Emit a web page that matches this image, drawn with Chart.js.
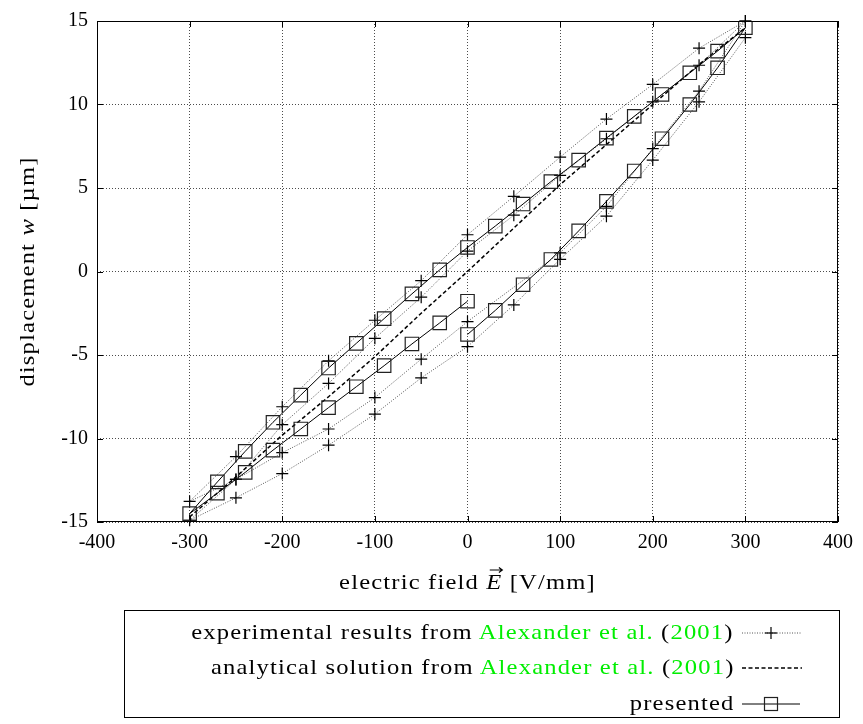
<!DOCTYPE html>
<html>
<head>
<meta charset="utf-8">
<script src="https://cdn.jsdelivr.net/npm/chart.js@4.4.1/dist/chart.umd.min.js"></script>
<style>
html,body{margin:0;padding:0;background:#fff;}
#wrap{position:relative;width:863px;height:724px;overflow:hidden;}
#c{position:absolute;left:0;top:0;}
#legend{position:absolute;left:124px;top:610px;width:716px;height:108px;border:1px solid #000;box-sizing:border-box;
  font-family:"Liberation Serif",serif;font-size:21px;color:#000;letter-spacing:1px;}
.row{position:absolute;right:105px;white-space:nowrap;line-height:24px;transform:scaleX(1.17);transform-origin:right center;}
.g{color:#00ee00;}
.sym{position:absolute;left:617px;width:60px;height:20px;}
</style>
</head>
<body>
<div id="wrap">
<canvas id="c" width="863" height="724"></canvas>
<div id="legend">
  <div class="row" style="top:9px;">experimental results from <span class="g">Alexander et al.</span> (<span class="g">2001</span>)</div>
  <svg class="sym" style="top:12px;" viewBox="0 0 60 20"><line x1="0" y1="10" x2="60" y2="10" stroke="#555" stroke-width="1" stroke-dasharray="1,1.5"/><line x1="29" y1="4" x2="29" y2="16" stroke="#000" stroke-width="1.2"/><line x1="23" y1="10" x2="35" y2="10" stroke="#000" stroke-width="1.2"/></svg>
  <div class="row" style="top:44px;">analytical solution from <span class="g">Alexander et al.</span> (<span class="g">2001</span>)</div>
  <svg class="sym" style="top:47px;" viewBox="0 0 60 20"><line x1="0" y1="10" x2="60" y2="10" stroke="#000" stroke-width="1.5" stroke-dasharray="4,2.5"/></svg>
  <div class="row" style="top:80px;">presented</div>
  <svg class="sym" style="top:83px;" viewBox="0 0 60 20"><line x1="0" y1="10" x2="58" y2="10" stroke="#000" stroke-width="1"/><rect x="22.5" y="3.5" width="13" height="13" fill="none" stroke="#222" stroke-width="1.2"/></svg>
</div>
</div>
<script>
// ---------- data ----------
const xTickVals = [-400, -300, -200, -100, 0, 100, 200, 300, 400];
const yTickVals = [-15, -10, -5, 0, 5, 10, 15];

// experimental results (Alexander et al. 2001): two measured loops
const expE = [300, 250, 200, 150, 100, 50, 0, -50, -100, -150, -200, -250, -300,
              -250, -200, -150, -100, -50, 0, 100, 150, 200, 250, 300,
              250, 200, 150, 100, 50, 0, -50, -100, -150, -200, -250, -300,
              -250, -200, -150, -100, -50, 0, 50, 100, 150, 200, 250, 300];
const expW = [15.0, 13.37, 11.2, 9.13, 6.85, 4.5, 2.2, -0.55, -2.92, -5.35, -8.1, -11.08, -13.77,
              -12.45, -10.85, -9.43, -7.55, -5.25, -3.0, 1.12, 3.9, 7.36, 10.8, 15.0,
              12.35, 10.16, 7.95, 5.76, 3.37, 1.22, -1.54, -4.0, -6.7, -9.17, -12.45, -14.9,
              -13.55, -12.1, -10.4, -8.54, -6.37, -4.5, -2.0, 0.73, 3.31, 6.67, 10.16, 14.0];

// analytical solution (Alexander et al. 2001)
const anaE = [-300, -250, -200, -150, -100, -50, 0, 50, 100, 150, 200, 250, 300];
const anaW = [-14.7, -12.3, -9.8, -7.5, -5.1, -2.5, 0.0, 2.6, 5.2, 7.6, 10.0, 12.4, 14.6];

// presented model
const presE = [0, 30, 60, 90, 120, 150, 180, 210, 240, 270, 300,
               270, 240, 210, 180, 150, 120, 90, 60, 30, 0, -30, -60, -90, -120, -150, -180, -210, -240, -270, -300,
               -270, -240, -210, -180, -150, -120, -90, -60, -30, 0];
const presW = [-3.77, -2.33, -0.79, 0.72, 2.43, 4.2, 6.02, 7.95, 10.0, 12.2, 14.6,
               13.2, 11.9, 10.6, 9.29, 7.99, 6.67, 5.38, 4.04, 2.72, 1.44, 0.1, -1.34, -2.82, -4.3, -5.78, -7.4, -9.03, -10.77, -12.6, -14.5,
               -13.27, -12.03, -10.7, -9.43, -8.15, -6.9, -5.64, -4.34, -3.08, -1.78];

const xTitle = ['electric field ', 'E', ' [V/mm]'];
const yTitle = ['displacement ', 'w', ' [\u00b5m]'];

// ---------- chart ----------
const FONT = '"Liberation Serif", serif';
const toPts = (xs, ys) => xs.map((x, i) => ({x: x, y: ys[i]}));

const framePlugin = {
  id: 'frame',
  afterDraw(chart) {
    const ctx = chart.ctx, a = chart.chartArea;
    const sx = chart.scales.x, sy = chart.scales.y;
    ctx.save();
    ctx.setLineDash([]);
    ctx.strokeStyle = '#000';
    ctx.lineWidth = 1;
    ctx.strokeRect(Math.round(a.left) + 0.5, Math.round(a.top) + 0.5,
                   Math.round(a.right - a.left) - 1, Math.round(a.bottom - a.top) - 1);
    ctx.beginPath();
    const tl = 6;
    xTickVals.forEach(v => {
      const px = Math.round(sx.getPixelForValue(v)) + 0.5;
      ctx.moveTo(px, a.bottom); ctx.lineTo(px, a.bottom - tl);
      ctx.moveTo(px, a.top); ctx.lineTo(px, a.top + tl);
    });
    yTickVals.forEach(v => {
      const py = Math.round(sy.getPixelForValue(v)) + 0.5;
      ctx.moveTo(a.left, py); ctx.lineTo(a.left + tl, py);
      ctx.moveTo(a.right, py); ctx.lineTo(a.right - tl, py);
    });
    ctx.stroke();

    // axis titles (mixed upright / italic), widened like Computer Modern
    const fN = '21px ' + FONT, fI = 'italic 21px ' + FONT;
    function rich(parts, cx, cy, arrowOnItalic) {
      ctx.save();
      if ('letterSpacing' in ctx) ctx.letterSpacing = '1px';
      const fonts = [fN, fI, fN];
      const widths = parts.map((t, i) => { ctx.font = fonts[i]; return ctx.measureText(t).width; });
      const total = widths.reduce((s, w) => s + w, 0);
      ctx.translate(cx, cy);
      ctx.scale(1.17, 1);
      let x = -total / 2;
      ctx.fillStyle = '#000';
      ctx.strokeStyle = '#000';
      ctx.textBaseline = 'alphabetic';
      ctx.textAlign = 'left';
      parts.forEach((t, i) => {
        ctx.font = fonts[i];
        ctx.fillText(t, x, 0);
        if (i === 1 && arrowOnItalic) {
          const ay = -19, x0 = x + 3, x1 = x + widths[i];
          ctx.beginPath();
          ctx.lineWidth = 1;
          ctx.moveTo(x0, ay); ctx.lineTo(x1, ay);
          ctx.moveTo(x1 - 3, ay - 2.5); ctx.lineTo(x1, ay); ctx.lineTo(x1 - 3, ay + 2.5);
          ctx.stroke();
        }
        x += widths[i];
      });
      ctx.restore();
    }
    rich(xTitle, (a.left + a.right) / 2, 589, true);
    ctx.translate(34, (a.top + a.bottom) / 2);
    ctx.rotate(-Math.PI / 2);
    rich(yTitle, 0, 0, false);
    ctx.restore();
  }
};

new Chart(document.getElementById('c'), {
  type: 'scatter',
  data: {
    datasets: [
      {
        label: 'presented',
        data: toPts(presE, presW),
        showLine: true,
        borderColor: '#000',
        borderWidth: 1,
        tension: 0,
        pointStyle: 'rect',
        pointRadius: 9.5,
        pointBorderWidth: 1.2,
        pointBorderColor: '#222',
        pointBackgroundColor: 'rgba(0,0,0,0)',
        order: 1
      },
      {
        label: 'analytical solution from Alexander et al. (2001)',
        data: toPts(anaE, anaW),
        showLine: true,
        borderColor: '#000',
        borderWidth: 1.5,
        borderDash: [4, 2.5],
        pointRadius: 0,
        tension: 0,
        order: 2
      },
      {
        label: 'experimental results from Alexander et al. (2001)',
        data: toPts(expE, expW),
        showLine: true,
        borderColor: '#555',
        borderWidth: 1,
        borderDash: [1, 1.5],
        tension: 0,
        pointStyle: 'cross',
        pointRadius: 6,
        pointBorderWidth: 1.2,
        pointBorderColor: '#000',
        clip: false,
        order: 3
      }
    ]
  },
  options: {
    responsive: false,
    animation: false,
    devicePixelRatio: 1,
    layout: { padding: { left: 0, right: 25, top: 15, bottom: 0 } },
    plugins: { legend: { display: false }, tooltip: { enabled: false } },
    scales: {
      x: {
        type: 'linear', min: -400, max: 400,
        afterBuildTicks: s => { s.ticks = xTickVals.map(v => ({ value: v })); },
        afterFit: s => { s.height = 202; },
        ticks: { color: '#000', font: { family: FONT, size: 20 }, padding: 9, maxRotation: 0,
                 callback: v => String(v) },
        grid: { color: 'rgba(0,0,0,0.7)', lineWidth: 1, drawTicks: false },
        border: { display: false, dash: [1, 2] }
      },
      y: {
        type: 'linear', min: -15, max: 15,
        afterBuildTicks: s => { s.ticks = yTickVals.map(v => ({ value: v })); },
        afterFit: s => { s.width = 97; },
        ticks: { color: '#000', font: { family: FONT, size: 20 }, padding: 9,
                 callback: v => String(v) },
        grid: { color: 'rgba(0,0,0,0.7)', lineWidth: 1, drawTicks: false },
        border: { display: false, dash: [1, 2] }
      }
    }
  },
  plugins: [framePlugin]
});
</script>
</body>
</html>
